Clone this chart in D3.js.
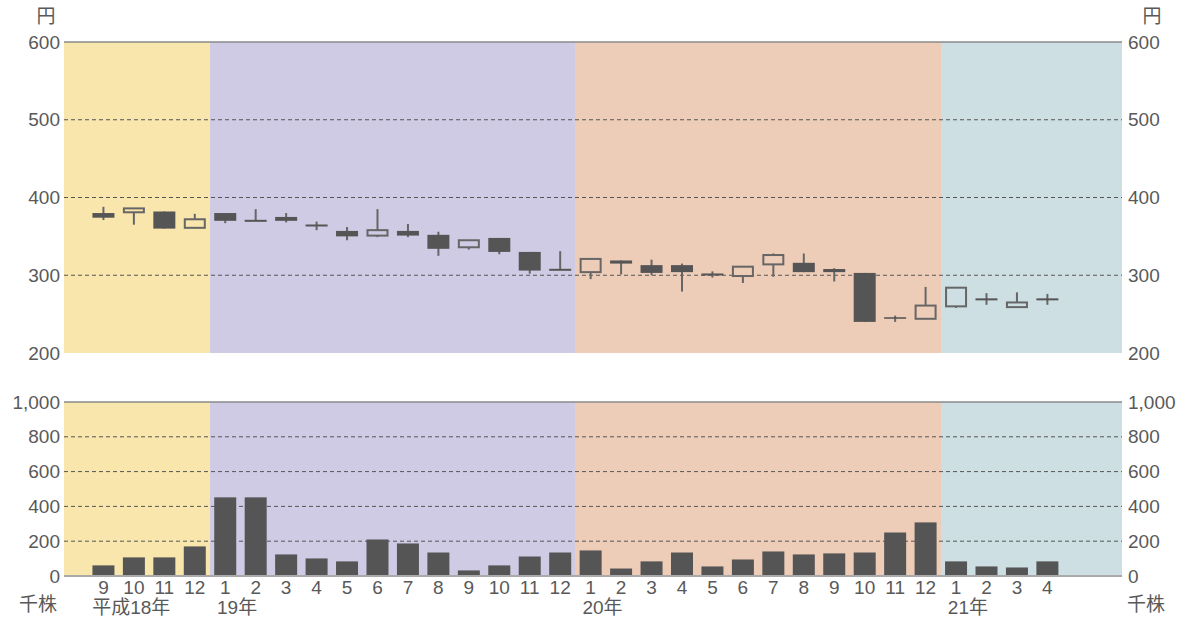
<!DOCTYPE html>
<html>
<head>
<meta charset="utf-8">
<script src="https://cdn.jsdelivr.net/npm/d3@7"></script>
<style>
  body { margin: 0; background: #fff; }
  svg { display: block; }
  text { font-family: "Liberation Sans", Arial, "Noto Sans CJK JP", sans-serif; fill: #595959; }
</style>
</head>
<body>
<svg id="chart" width="1178" height="617"></svg>
<script>
// 月ラベル（平成18年9月〜平成21年4月）
const monthLabels = ['9','10','11','12','1','2','3','4','5','6','7','8','9','10','11','12',
                     '1','2','3','4','5','6','7','8','9','10','11','12','1','2','3','4'];
const yearLabels = ['平成18年','19年','20年','21年'];
const yearStart = [0, 4, 16, 28];

// 株価（円）
const openP  = [380,381,382,361,380,370,375,364,357,351,357,352,336,348,330,307,
                304,319,313,313,301,299,314,316,308,303,246,244,260,269,259,269];
const highP  = [388,386,382,379,380,385,380,369,362,385,366,356,345,348,330,331,
                321,319,320,315,305,311,328,328,309,303,248,285,284,277,278,276];
const lowP   = [371,365,360,361,367,370,368,358,345,349,349,325,333,327,302,307,
                295,301,300,279,297,290,298,304,292,240,240,244,258,262,259,262];
const closeP = [374,386,360,372,370,370,370,364,350,358,351,334,345,330,306,307,
                321,315,303,304,301,311,326,304,304,240,244,261,284,269,265,269];

// 出来高（千株）
const volume = [61,107,107,170,452,452,124,101,84,210,187,135,32,61,112,135,
                147,43,84,135,55,95,141,124,130,135,250,308,84,55,49,84];

const priceTicks = [200,300,400,500,600];
const volTicks = [0,200,400,600,800,1000];
const bandEdges = [-0.795, 4, 16, 28, 33.95];
const bandColors = ['#f8e6ad','#cfcbe4','#eecdb8','#cddfe3'];

const svg = d3.select('#chart');
const left = 64, right = 1122;
const fs = 19;

const x = d3.scaleLinear().domain([-0.795, 33.95]).range([left, right]);
const yP = d3.scaleLinear().domain([200, 600]).range([353, 42]);
const yV = d3.scaleLinear().domain([0, 1000]).range([576, 402]);

function drawPanel(y, ticks, fmt) {
  const g = svg.append('g');
  const [y0, y1] = [y.range()[0], y.range()[1]];
  // 年ごとの背景
  bandColors.forEach((c, i) => {
    const xa = Math.round(x(bandEdges[i]));
    const xb = Math.round(x(bandEdges[i + 1]));
    g.append('rect')
      .attr('x', xa).attr('y', y1)
      .attr('width', xb - xa)
      .attr('height', y0 - y1)
      .attr('fill', c)
      .attr('shape-rendering', 'crispEdges');
  });
  // 目盛り線
  ticks.slice(1, -1).forEach(t => {
    g.append('line')
      .attr('x1', left).attr('x2', right)
      .attr('y1', y(t)).attr('y2', y(t))
      .attr('stroke', '#555').attr('stroke-width', 1)
      .attr('stroke-dasharray', '4,3');
  });
  g.append('line')
    .attr('x1', left).attr('x2', right)
    .attr('y1', y1).attr('y2', y1)
    .attr('stroke', '#8a8a8a').attr('stroke-width', 1.5);
  // 左右の目盛りラベル
  ticks.forEach(t => {
    g.append('text').attr('x', left - 4).attr('y', y(t) + 6.5)
      .attr('text-anchor', 'end').attr('font-size', fs).text(fmt(t));
    g.append('text').attr('x', right + 6).attr('y', y(t) + 6.5)
      .attr('text-anchor', 'start').attr('font-size', fs).text(fmt(t));
  });
  return g;
}

const gP = drawPanel(yP, priceTicks, d3.format('d'));
const gV = drawPanel(yV, volTicks, d3.format(','));

// ローソク足
const bw = 22;
monthLabels.forEach((m, i) => {
  const cx = x(i + 0.5);
  const up = closeP[i] > openP[i];
  gP.append('line')
    .attr('x1', cx).attr('x2', cx)
    .attr('y1', yP(highP[i])).attr('y2', yP(lowP[i]))
    .attr('stroke', '#666').attr('stroke-width', 2);
  const top = yP(Math.max(openP[i], closeP[i]));
  const bot = yP(Math.min(openP[i], closeP[i]));
  if (openP[i] === closeP[i]) {
    gP.append('line')
      .attr('x1', cx - bw / 2).attr('x2', cx + bw / 2)
      .attr('y1', top).attr('y2', top)
      .attr('stroke', '#555').attr('stroke-width', 2);
  } else if (up) {
    gP.append('rect')
      .attr('x', cx - bw / 2 + 1).attr('y', top)
      .attr('width', bw - 2).attr('height', bot - top)
      .attr('fill', bandColors[d3.bisectRight(bandEdges, i) - 1])
      .attr('stroke', '#666').attr('stroke-width', 2);
  } else {
    gP.append('rect')
      .attr('x', cx - bw / 2).attr('y', top)
      .attr('width', bw).attr('height', bot - top)
      .attr('fill', '#555');
  }
});

// 出来高バー
gV.selectAll('rect.vol')
  .data(volume)
  .enter().append('rect')
  .attr('class', 'vol')
  .attr('x', (d, i) => x(i + 0.5) - bw / 2)
  .attr('y', d => yV(d))
  .attr('width', bw)
  .attr('height', d => yV(0) - yV(d))
  .attr('fill', '#555');

gV.append('line')
  .attr('x1', left).attr('x2', right)
  .attr('y1', yV(0)).attr('y2', yV(0))
  .attr('stroke', '#aaa').attr('stroke-width', 2);

// 月・年ラベル
monthLabels.forEach((m, i) => {
  svg.append('text').attr('x', x(i + 0.5)).attr('y', 594)
    .attr('text-anchor', 'middle').attr('font-size', fs).text(m);
});
yearLabels.forEach((t, i) => {
  svg.append('text').attr('x', x(yearStart[i]) + (i === 0 ? 4 : 7)).attr('y', 614)
    .attr('font-size', fs).text(t);
});

// 単位
svg.append('text').attr('x', 46).attr('y', 23).attr('text-anchor', 'middle').attr('font-size', fs).text('円');
svg.append('text').attr('x', 1152).attr('y', 23).attr('text-anchor', 'middle').attr('font-size', fs).text('円');
svg.append('text').attr('x', 38).attr('y', 611).attr('text-anchor', 'middle').attr('font-size', fs).text('千株');
svg.append('text').attr('x', 1146).attr('y', 611).attr('text-anchor', 'middle').attr('font-size', fs).text('千株');
</script>
</body>
</html>
